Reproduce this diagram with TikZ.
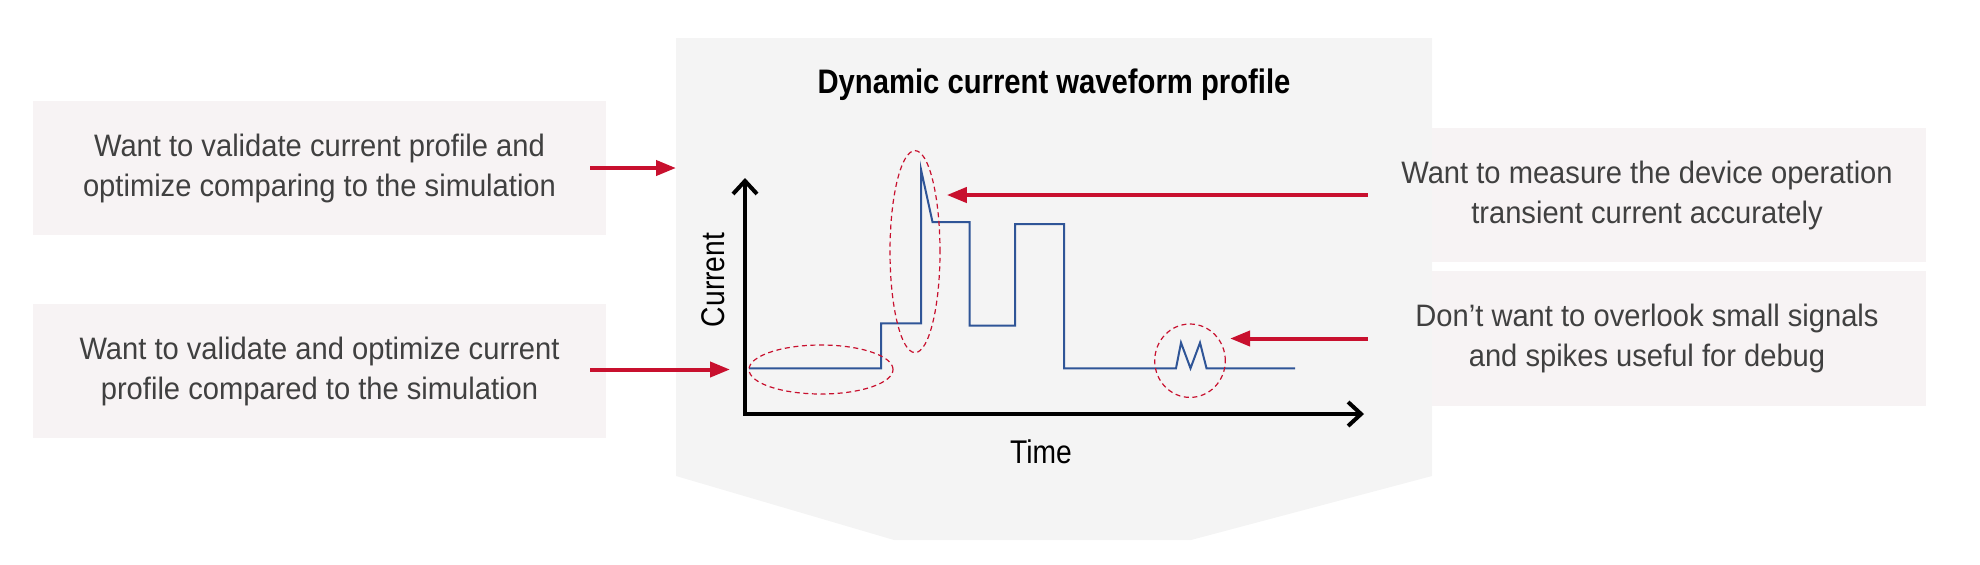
\documentclass[tikz,border=0pt]{standalone}
\usepackage{fontspec}
\setmainfont{Liberation Sans}
\newfontfamily\notefont[FakeStretch=0.94]{Liberation Sans}
\newfontfamily\narrowfont[FakeStretch=0.86]{Liberation Sans}
\usetikzlibrary{arrows.meta, positioning, shapes.geometric}
\definecolor{notebg}{HTML}{F7F3F4}
\definecolor{panelbg}{HTML}{F4F4F4}
\definecolor{callred}{HTML}{C8102E}
\definecolor{waveblue}{HTML}{2F5597}
\definecolor{notetext}{HTML}{404040}

\begin{document}
\begin{tikzpicture}[
			x=0.5pt, y=-0.5pt,
			note/.style={rectangle, fill=notebg, inner sep=0pt, align=center, text=notetext, font=\notefont\fontsize{15.5}{20}\selectfont},
			under panel/.style={path picture={\fill[panelbg] (path picture bounding box.north west) rectangle ([xshift=32pt]path picture bounding box.south west);}},
			mark ring/.style={ellipse, draw=callred, line width=0.6pt, dash pattern=on 2.5pt off 1.8pt, inner sep=0pt, outer sep=0pt},
			callout/.style={draw=callred, line width=2pt, -{Triangle[length=10pt, width=7.5pt]}},
			axis line/.style={draw=black, line width=2pt, {Straight Barb[length=6.5pt, width=12pt]}-{Straight Barb[length=6.5pt, width=12pt]}},
			wave/.style={draw=waveblue, line width=1pt, line join=miter},
			axis label/.style={font=\narrowfont\fontsize{16.4}{20}\selectfont}
		]
		\useasboundingbox (0,0) rectangle (1980,564);
		\coordinate (pnw) at (676,38);
		\fill[panelbg] (pnw) -- (1432,38) -- (1432,476) -- (1191,540) -- (894,540) -- (676,476) -- cycle;
		\node[note, minimum width=286.5pt, minimum height=67pt] (lnote1) at (319.5,168) {Want to validate current profile and\\optimize comparing to the simulation};
		\node[note, minimum width=286.5pt, minimum height=67pt] (lnote2) at (319.5,371) {Want to validate and optimize current\\profile compared to the simulation};
		\node[note, under panel, minimum width=279pt, minimum height=66.75pt] (rnote1) at (1647,195) {Want to measure the device operation\\transient current accurately};
		\node[note, under panel, minimum width=279pt, minimum height=67.5pt] (rnote2) at (1647,338.5) {Don’t want to overlook small signals\\and spikes useful for debug};
		\node[font=\narrowfont\bfseries\fontsize{17}{20}\selectfont] (title) at (1054,84.5) {Dynamic current waveform profile};
		\coordinate (origin) at (745,414);
		\draw[axis line] (745,178) -- (origin) -- (1364,414);
		\node[axis label, rotate=90] (ylabel) at (713,280) {Current};
		\node[axis label] (xlabel) at (1041,452) {Time};
		\draw[wave] (749,368.3) -- (881,368.3) -- (881,323.3) -- (921,323.3) -- (921,169.5) -- (932.5,222) -- (969.5,222) -- (969.5,325.5) -- (1015,325.5) -- (1015,224) -- (1064,224) -- (1064,368.3) -- (1176,368.3) -- (1181,342.7) -- (1190.5,368.3) -- (1200,342.7) -- (1206.5,368.3) -- (1295,368.3);
		\node[mark ring, minimum width=72pt, minimum height=24.5pt] (base) at (821,369.5) {};
		\node[mark ring, minimum width=25pt, minimum height=101pt] (spike) at (915,251.6) {};
		\node[mark ring, minimum width=35.3pt, minimum height=36.7pt] (spur) at (1190,360.7) {};
		\draw[callout, shorten <=-8pt] (lnote1.east) -- (lnote1.east -| pnw);
		\draw[callout, shorten <=-8pt, shorten >=9.5pt] (base.west -| lnote2.east) -- (base.west);
		\draw[callout, shorten >=3.4pt] (rnote1.west) -- (rnote1.west -| spike.east);
		\draw[callout, shorten >=2.4pt] (rnote2.west) -- (rnote2.west -| spur.east);
\end{tikzpicture}
\end{document}
